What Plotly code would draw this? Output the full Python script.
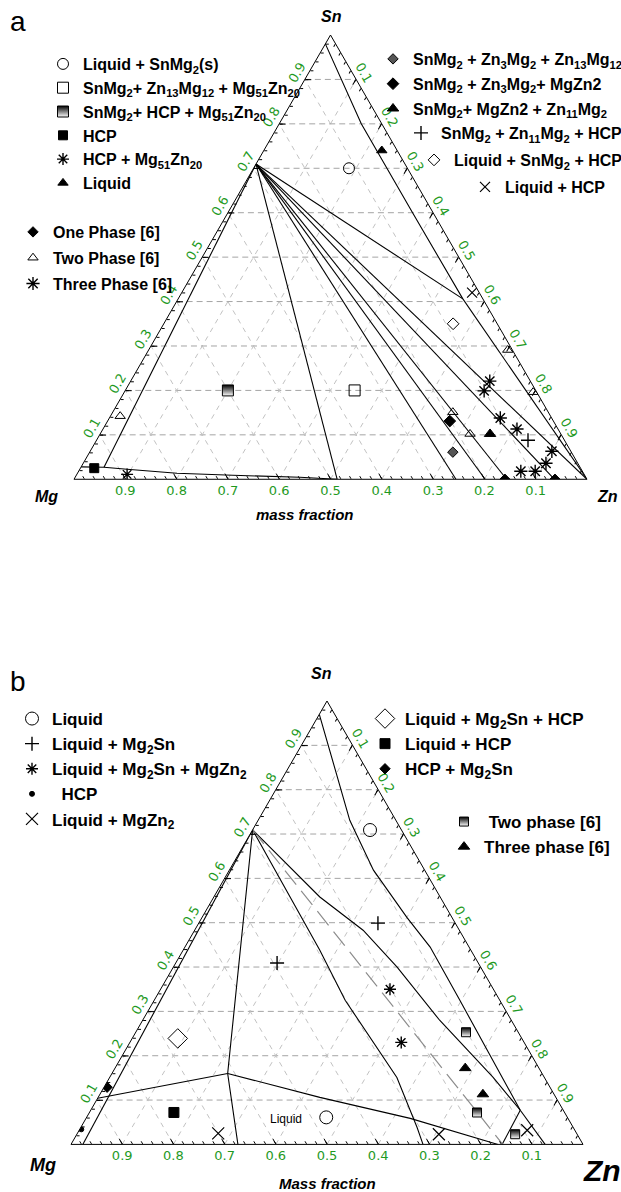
import plotly.graph_objects as go

FIG_W, FIG_H = 621, 1192

# ---------------------------------------------------------------
# Compositions are mass fractions written as (Sn, Mg, Zn)
# ---------------------------------------------------------------
MG2SN = (0.7095, 0.2905, 0.0)
MG51ZN20 = (0.0, 0.487, 0.513)
MG12ZN13 = (0.0, 0.2555, 0.7445)
MG2ZN3 = (0.0, 0.1986, 0.8014)
MGZN2 = (0.0, 0.1567, 0.8433)
MG2ZN11 = (0.0, 0.0633, 0.9367)
ZN = (0.0, 0.0, 1.0)

# ---- panel a: phase boundaries ----
A_HCP_CORNER = (0.027, 0.928, 0.045)
A_LIQ_CORNER = (0.406, 0.039, 0.555)
A_TIE_LINES = [
    [MG2SN, A_HCP_CORNER],
    [MG2SN, MG51ZN20],
    [MG2SN, MG12ZN13],
    [MG2SN, MG2ZN3],
    [MG2SN, MGZN2],
    [MG2SN, MG2ZN11],
    [MG2SN, ZN],
    [MG2SN, A_LIQ_CORNER],
    [A_LIQ_CORNER, ZN],
    [(0.028, 0.972, 0.0), A_HCP_CORNER],
]
A_HCP_SOLVUS = [A_HCP_CORNER, (0.0226, 0.885, 0.092), (0.0135, 0.7925, 0.194),
                (0.009, 0.686, 0.305), (0.0045, 0.5575, 0.438), MG51ZN20]
A_LIQUIDUS = [(0.98, 0.02, 0.0), (0.80, 0.04, 0.16), (0.60, 0.04, 0.36), A_LIQ_CORNER]

# ---- panel a: calculated / experimental points ----
A_LIQ_SNMG2 = [(0.70, 0.114, 0.186)]
A_SNMG2_ZN13MG12_MG51ZN20 = [(0.20, 0.353, 0.447)]
A_SNMG2_HCP_MG51ZN20 = [(0.20, 0.60, 0.20)]
A_HCP = [(0.025, 0.948, 0.027)]
A_HCP_MG51ZN20 = [(0.011, 0.891, 0.098)]
A_LIQUID = [(0.74, 0.03, 0.23)]
A_ONE_PHASE = [(0.0, 0.16, 0.84), (0.0, 0.0624, 0.9376)]
A_TWO_PHASE = [(0.142, 0.839, 0.019), (0.151, 0.186, 0.663), (0.102, 0.177, 0.721),
               (0.291, 0.009, 0.70), (0.196, 0.007, 0.797)]
A_THREE_PHASE = [(0.221, 0.079, 0.70), (0.199, 0.101, 0.70), (0.138, 0.10, 0.762),
                 (0.113, 0.08, 0.807), (0.063, 0.037, 0.90), (0.036, 0.062, 0.902),
                 (0.018, 0.12, 0.862), (0.018, 0.092, 0.89)]
A_SNMG2_ZN3MG2_ZN13MG12 = [(0.061, 0.231, 0.708)]
A_SNMG2_ZN3MG2_MGZN2 = [(0.131, 0.202, 0.667)]
A_SNMG2_MGZN2_ZN11MG2 = [(0.102, 0.138, 0.760)]
A_SNMG2_ZN11MG2_HCP = [(0.088, 0.071, 0.841)]
A_LIQ_SNMG2_HCP = [(0.35, 0.086, 0.564)]
A_LIQ_HCP = [(0.42, 0.014, 0.566)]

# ---- panel b: phase boundaries ----
B_KINK = (0.16, 0.614, 0.226)
B_LIQ_CORNER = (0.077, 0.084, 0.839)
B_LINES = [
    [MG2SN, (0.0, 0.977, 0.023)],
    [MG2SN, B_KINK, (0.0, 0.674, 0.326)],
    [(0.104, 0.896, 0.0), B_KINK],
    [B_KINK, (0.106, 0.461, 0.433), (0.0587, 0.308, 0.633), (0.0, 0.166, 0.834)],
    [MG2SN, (0.438, 0.295, 0.267), (0.325, 0.302, 0.373), (0.151, 0.288, 0.561),
     (0.038, 0.305, 0.657), (0.0, 0.3125, 0.6875)],
    [MG2SN, (0.558, 0.235, 0.207), (0.483, 0.188, 0.329), (0.40, 0.163, 0.437),
     (0.28, 0.14, 0.58), (0.151, 0.10, 0.749), B_LIQ_CORNER],
    [(0.97, 0.03, 0.0), (0.731, 0.09, 0.179), (0.6185, 0.10, 0.2815), (0.512, 0.088, 0.40),
     (0.445, 0.076, 0.479), (0.325, 0.078, 0.597), B_LIQ_CORNER],
    [B_LIQ_CORNER, (0.0, 0.158, 0.842)],
    [B_LIQ_CORNER, (0.0, 0.074, 0.926)],
]
B_SECTION = [MG2SN, MGZN2]

# ---- panel b: points ----
B_LIQUID = [(0.709, 0.0615, 0.2295), (0.061, 0.471, 0.468)]
B_LIQ_MG2SN = [(0.409, 0.393, 0.198), (0.499, 0.151, 0.35)]
B_LIQ_MG2SN_MGZN2 = [(0.35, 0.202, 0.448), (0.23, 0.24, 0.53)]
B_HCP = [(0.034, 0.963, 0.003)]
B_LIQ_MGZN2 = [(0.023, 0.27, 0.707), (0.032, 0.093, 0.875), (0.025, 0.70, 0.275)]
B_LIQ_MG2SN_HCP = [(0.239, 0.672, 0.089)]
B_LIQ_HCP = [(0.072, 0.763, 0.165)]
B_HCP_MG2SN = [(0.129, 0.865, 0.006)]
B_TWO_PHASE = [(0.253, 0.102, 0.645), (0.072, 0.171, 0.757), (0.023, 0.121, 0.856)]
B_THREE_PHASE = [(0.172, 0.144, 0.684), (0.113, 0.139, 0.748)]
B_TEXT = [(0.056, 0.552, 0.392)]

GRID_VALUES = [0.1, 0.2, 0.3, 0.4, 0.5, 0.6, 0.7, 0.8, 0.9]
GRID_LABELS = ["0.1", "0.2", "0.3", "0.4", "0.5", "0.6", "0.7", "0.8", "0.9"]
MINOR_TICK_STEP = 0.02

# ---------------------------------------------------------------
GREEN = "#1f9a1f"
LEGEND_FONT = "Liberation Sans"


def split(points):
    return ([p[0] for p in points], [p[1] for p in points], [p[2] for p in points])


fig = go.Figure()


def add_line(points, subplot, color="black", width=1.1, dash="solid"):
    a, b, c = split(points)
    fig.add_trace(go.Scatterternary(a=a, b=b, c=c, mode="lines", subplot=subplot,
                                    line=dict(color=color, width=width, dash=dash),
                                    showlegend=False, hoverinfo="skip"))


def add_grid(subplot):
    for v in GRID_VALUES:
        # constant Sn (horizontal)
        add_line([(v, 1 - v, 0.0), (v, 0.0, 1 - v)], subplot, "#a4a4a4", 1, "6px,4px")
        # constant Mg and constant Zn (diagonals)
        add_line([(0.0, v, 1 - v), (1 - v, v, 0.0)], subplot, "#c2c2c2", 1, "5px,5px")
        add_line([(0.0, 1 - v, v), (1 - v, 0.0, v)], subplot, "#c2c2c2", 1, "5px,5px")


def add_points(points, name, subplot, legend, symbol, size, color="black",
               line_width=1, gradient=None):
    a, b, c = split(points)
    marker = dict(symbol=symbol, size=size, color=color,
                  line=dict(color="black", width=line_width))
    if gradient:
        marker["gradient"] = dict(type="vertical", color=gradient)
    fig.add_trace(go.Scatterternary(a=a, b=b, c=c, mode="markers", subplot=subplot,
                                    name=name, legend=legend, legendgroup=name + subplot,
                                    marker=marker, hoverinfo="skip"))


# ---------------- panel a ----------------
add_grid("ternary")
for seg in A_TIE_LINES:
    add_line(seg, "ternary")
add_line(A_HCP_SOLVUS, "ternary")
add_line(A_LIQUIDUS, "ternary")

add_points(A_LIQ_SNMG2, "Liquid + SnMg<sub>2</sub>(s)", "ternary", "legend", "circle-open", 11)
add_points(A_SNMG2_ZN13MG12_MG51ZN20,
           "SnMg<sub>2</sub>+ Zn<sub>13</sub>Mg<sub>12</sub> + Mg<sub>51</sub>Zn<sub>20</sub>",
           "ternary", "legend", "square-open", 11)
add_points(A_SNMG2_HCP_MG51ZN20, "SnMg<sub>2</sub>+ HCP + Mg<sub>51</sub>Zn<sub>20</sub>",
           "ternary", "legend", "square", 11, color="black", gradient="white")
add_points(A_HCP, "HCP", "ternary", "legend", "square", 9)
add_points(A_HCP_MG51ZN20, "HCP + Mg<sub>51</sub>Zn<sub>20</sub>", "ternary", "legend",
           "asterisk-open", 10, line_width=1.4)
add_points(A_LIQUID, "Liquid", "ternary", "legend", "triangle-up", 9)

add_points(A_ONE_PHASE, "One Phase [6]", "ternary", "legend2", "diamond", 8)
add_points(A_TWO_PHASE, "Two Phase [6]", "ternary", "legend2", "triangle-up-open", 9)
add_points(A_THREE_PHASE, "Three Phase [6]", "ternary", "legend2", "asterisk-open", 11,
           line_width=1.4)

add_points(A_SNMG2_ZN3MG2_ZN13MG12,
           "SnMg<sub>2</sub> + Zn<sub>3</sub>Mg<sub>2</sub> + Zn<sub>13</sub>Mg<sub>12</sub>",
           "ternary", "legend3", "diamond", 8, color="#555555")
add_points(A_SNMG2_ZN3MG2_MGZN2, "SnMg<sub>2</sub> + Zn<sub>3</sub>Mg<sub>2</sub>+ MgZn2",
           "ternary", "legend3", "diamond", 9)
add_points(A_SNMG2_MGZN2_ZN11MG2, "SnMg<sub>2</sub>+ MgZn2 + Zn<sub>11</sub>Mg<sub>2</sub>",
           "ternary", "legend3", "triangle-up", 10)
add_points(A_SNMG2_ZN11MG2_HCP, "SnMg<sub>2</sub> + Zn<sub>11</sub>Mg<sub>2</sub> + HCP",
           "ternary", "legend4", "cross-thin-open", 10, line_width=1.4)
add_points(A_LIQ_SNMG2_HCP, "Liquid + SnMg<sub>2</sub> + HCP", "ternary", "legend9",
           "diamond-open", 9)
add_points(A_LIQ_HCP, "Liquid + HCP", "ternary", "legend5", "x-thin-open", 10, line_width=1.2)

# ---------------- panel b ----------------
add_grid("ternary2")
for seg in B_LINES:
    add_line(seg, "ternary2")
add_line(B_SECTION, "ternary2", "#8c8c8c", 1.2, "18px,8px")

add_points(B_LIQUID, "Liquid", "ternary2", "legend6", "circle-open", 13)
add_points(B_LIQ_MG2SN, "Liquid + Mg<sub>2</sub>Sn", "ternary2", "legend6", "cross-thin-open",
           10, line_width=1.4)
add_points(B_LIQ_MG2SN_MGZN2, "Liquid + Mg<sub>2</sub>Sn + MgZn<sub>2</sub>", "ternary2",
           "legend6", "asterisk-open", 10, line_width=1.4)
add_points(B_HCP, "  HCP", "ternary2", "legend6", "circle", 5)
add_points(B_LIQ_MGZN2, "Liquid + MgZn<sub>2</sub>", "ternary2", "legend6", "x-thin-open", 12,
           line_width=1.2)
add_points(B_LIQ_MG2SN_HCP, "Liquid + Mg<sub>2</sub>Sn + HCP", "ternary2", "legend7",
           "diamond-open", 15)
add_points(B_LIQ_HCP, "Liquid + HCP", "ternary2", "legend7", "square", 10)
add_points(B_HCP_MG2SN, "HCP + Mg<sub>2</sub>Sn", "ternary2", "legend7", "diamond", 8)
add_points(B_TWO_PHASE, " Two phase [6]", "ternary2", "legend8", "square", 9,
           color="black", gradient="white")
add_points(B_THREE_PHASE, "Three phase [6]", "ternary2", "legend8", "triangle-up", 10)

ta, tb, tc = split(B_TEXT)
fig.add_trace(go.Scatterternary(a=ta, b=tb, c=tc, mode="text", text=["Liquid"],
                                subplot="ternary2", showlegend=False, hoverinfo="skip",
                                textfont=dict(family="Liberation Sans", size=12, color="black")))

# empty traces so the minor-tick overlays are registered
for sub in ("ternary3", "ternary4"):
    fig.add_trace(go.Scatterternary(a=[], b=[], c=[], subplot=sub, showlegend=False,
                                    hoverinfo="skip"))


# ---------------- layout ----------------
def domain(x_left, x_right, y_top):
    width = x_right - x_left
    height = width * 3 ** 0.5 / 2
    return dict(x=[x_left / FIG_W, x_right / FIG_W],
                y=[1 - (y_top + height) / FIG_H, 1 - y_top / FIG_H])


def main_ternary(dom):
    def axis(angle):
        return dict(title=dict(text=""), min=0, showline=True, linecolor="black", linewidth=1,
                    showgrid=False, tickmode="array", tickvals=GRID_VALUES,
                    ticktext=GRID_LABELS, ticks="inside", ticklen=6, tickcolor="black",
                    tickwidth=1, tickangle=angle,
                    tickfont=dict(family="DejaVu Sans", size=13, color=GREEN))

    return dict(domain=dom, bgcolor="white", sum=1,
                aaxis=axis(-60), baxis=axis(0), caxis=axis(60))


def minor_ternary(dom):
    axis = dict(title=dict(text=""), min=0, showline=False, showgrid=False,
                showticklabels=False, tickmode="linear", tick0=0, dtick=MINOR_TICK_STEP,
                ticks="inside", ticklen=3, tickcolor="black", tickwidth=1)
    return dict(domain=dom, bgcolor="rgba(0,0,0,0)", sum=1,
                aaxis=axis, baxis=axis, caxis=axis)


def legend_box(x_px, y_px, size, gap):
    return dict(x=x_px / FIG_W, y=1 - y_px / FIG_H, xanchor="left", yanchor="top",
                bgcolor="rgba(0,0,0,0)", borderwidth=0, itemwidth=30,
                traceorder="grouped", tracegroupgap=gap,
                font=dict(family=LEGEND_FONT, size=size, color="black", weight="bold"))


def label(text, x_px, y_px, size, italic=True, bold=True):
    return dict(text=text, x=x_px / FIG_W, y=1 - y_px / FIG_H, xref="paper", yref="paper",
                showarrow=False, xanchor="center", yanchor="middle",
                font=dict(family="Liberation Sans", size=size, color="black",
                          weight="bold" if bold else "normal",
                          style="italic" if italic else "normal"))


DOM_A = domain(74, 587, 35)
DOM_B = domain(71, 583, 701)

fig.update_layout(
    width=FIG_W, height=FIG_H,
    margin=dict(l=0, r=0, t=0, b=0, autoexpand=False),
    paper_bgcolor="white", plot_bgcolor="white",
    ternary=main_ternary(DOM_A),
    ternary2=main_ternary(DOM_B),
    ternary3=minor_ternary(DOM_A),
    ternary4=minor_ternary(DOM_B),
    legend=legend_box(43, 47, 16, 0),
    legend2=legend_box(13, 215, 16, 2),
    legend3=legend_box(373, 42, 16, 1),
    legend4=legend_box(401, 116, 16, 0),
    legend9=legend_box(414, 143, 16, 0),
    legend5=legend_box(465, 170, 16, 0),
    legend6=legend_box(12, 701, 17, 0),
    legend7=legend_box(365, 701, 17, 0),
    legend8=legend_box(444, 804, 17, 0),
    annotations=[
        label("a", 18, 21, 28, italic=False, bold=False),
        label("Sn", 331, 17, 16),
        label("Mg", 46, 497, 16),
        label("Zn", 607, 497, 16),
        label("mass fraction", 305, 514, 15),
        label("b", 18, 681, 28, italic=False, bold=False),
        label("Sn", 321, 673, 16),
        label("Mg", 43, 1165, 18),
        label("Zn", 602, 1170, 30),
        label("Mass fraction", 327, 1183, 15),
    ],
)

fig.write_html("out.html")
